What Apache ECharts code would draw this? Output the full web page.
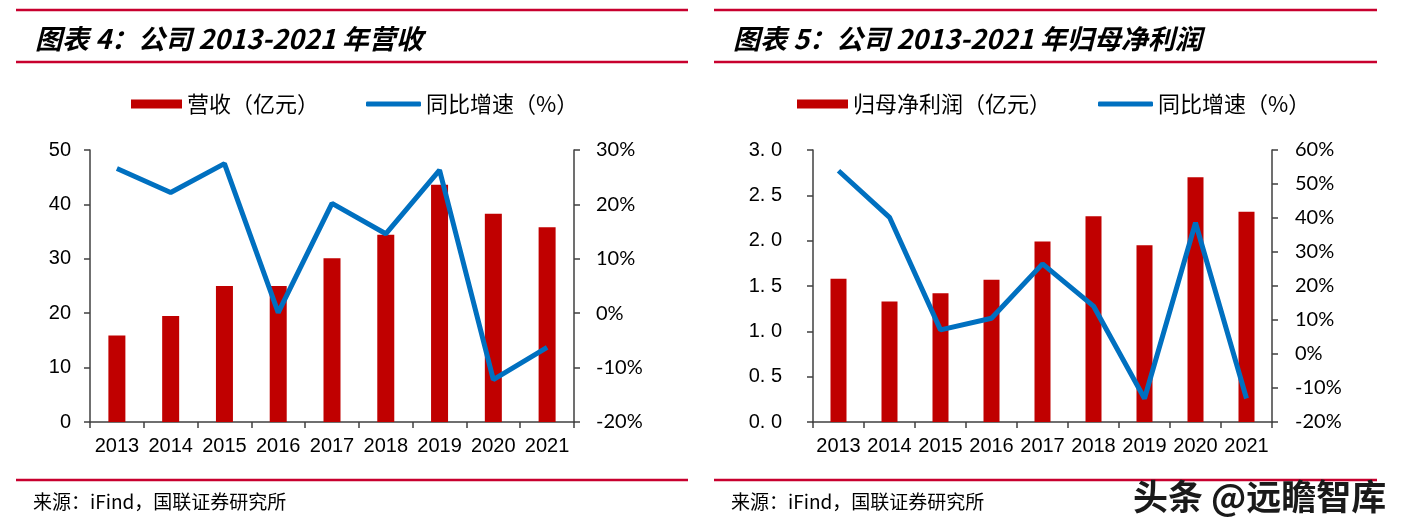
<!DOCTYPE html>
<html>
<head>
<meta charset="utf-8">
<script src="https://cdn.jsdelivr.net/npm/echarts@6/dist/echarts.min.js"></script>
<style>
html,body{margin:0;padding:0;background:#fff;}
#c{width:1409px;height:529px;}
</style>
</head>
<body>
<div id="c"></div>
<script>
// ---- data ----
const years = ['2013','2014','2015','2016','2017','2018','2019','2020','2021'];
const revenue = [15.9, 19.5, 25.0, 25.0, 30.1, 34.4, 43.6, 38.3, 35.8];
const revenueGrowth = [26.6, 22.2, 27.5, 0.1, 20.2, 14.6, 26.3, -12.2, -6.3];
const netProfit = [1.58, 1.33, 1.42, 1.57, 1.99, 2.27, 1.95, 2.70, 2.32];
const netProfitGrowth = [53.9, 40.2, 7.1, 10.5, 26.5, 14.1, -13.1, 38.6, -13.1];

const titleLeft = '图表 4：公司 2013-2021 年营收';
const titleRight = '图表 5：公司 2013-2021 年归母净利润';
const nameRevenue = '营收（亿元）';
const nameProfit = '归母净利润（亿元）';
const nameGrowth = '同比增速（%）';
const sourceText = '来源：iFind，国联证券研究所';
const watermark = '头条 @远瞻智库';

// ---- styles ----
const RED = '#C00000';
const BLUE = '#0070C0';
const RULE = '#C8002E';
const AXIS = '#404040';
const CJK = 'Noto Sans CJK SC';
const NUM = 'Liberation Sans';
const PCT = 'Lato';

const chart = echarts.init(document.getElementById('c'));

function xAxis(gi) {
  return {
    type: 'category', gridIndex: gi, data: years, boundaryGap: true,
    axisLine: {lineStyle: {color: AXIS, width: 1.5}},
    axisTick: {show: true, length: 6, alignWithLabel: false, lineStyle: {color: AXIS, width: 1.5}},
    axisLabel: {interval: 0, margin: 14, color: '#000', fontFamily: NUM, fontSize: 20}
  };
}
function yAxis(gi, pos, min, max, interval, fmt, margin, font) {
  return {
    type: 'value', gridIndex: gi, position: pos, min: min, max: max, interval: interval,
    splitLine: {show: false},
    axisLine: {show: true, lineStyle: {color: AXIS, width: 1.5}},
    axisTick: {show: true, length: 6, lineStyle: {color: AXIS, width: 1.5}},
    axisLabel: {formatter: fmt, margin: margin, color: '#000', fontFamily: font, fontSize: 20}
  };
}

function hline(x1, x2, y) {
  return {type: 'line', shape: {x1: x1, y1: y, x2: x2, y2: y}, style: {stroke: RULE, lineWidth: 2.5}, silent: true};
}
function txt(x, y, s, size, extra) {
  return {type: 'text', x: x, y: y, silent: true,
    style: Object.assign({text: s, fill: '#000', fontSize: size, fontFamily: CJK, verticalAlign: 'middle'}, extra || {})};
}

const legendText = {fontFamily: CJK, fontSize: 22, color: '#000'};

chart.setOption({
  animation: false,
  grid: [
    {left: 90, top: 150, width: 484, height: 272},
    {left: 813, top: 150, width: 459, height: 272}
  ],
  xAxis: [xAxis(0), xAxis(1)],
  yAxis: [
    yAxis(0, 'left', 0, 50, 10, v => String(v), 19, NUM),
    yAxis(0, 'right', -20, 30, 10, v => v + '%', 22, PCT),
    yAxis(1, 'left', 0, 3, 0.5, v => v.toFixed(1).replace('.', '. '), 31, NUM),
    yAxis(1, 'right', -20, 60, 10, v => v + '%', 23, PCT)
  ],
  legend: [
    {left: 126, top: 88, itemWidth: 51, itemHeight: 9, itemGap: 0, icon: 'rect', data: [nameRevenue], textStyle: legendText},
    {left: 361, top: 88, itemWidth: 55, itemHeight: 5, itemGap: 0, icon: 'roundRect', data: [nameGrowth], textStyle: legendText},
    {left: 792, top: 88, itemWidth: 51, itemHeight: 9, itemGap: 0, icon: 'rect', data: [nameProfit], textStyle: legendText},
    {left: 1093, top: 88, itemWidth: 55, itemHeight: 5, itemGap: 0, icon: 'roundRect', data: [nameGrowth], textStyle: legendText}
  ],
  series: [
    {name: nameRevenue, type: 'bar', xAxisIndex: 0, yAxisIndex: 0, data: revenue, barWidth: 17, itemStyle: {color: RED}},
    {name: nameGrowth, type: 'line', xAxisIndex: 0, yAxisIndex: 1, data: revenueGrowth, showSymbol: false, symbol: 'none',
     lineStyle: {color: BLUE, width: 5}, itemStyle: {color: BLUE}},
    {name: nameProfit, type: 'bar', xAxisIndex: 1, yAxisIndex: 2, data: netProfit, barWidth: 16, itemStyle: {color: RED}},
    {name: nameGrowth, type: 'line', xAxisIndex: 1, yAxisIndex: 3, data: netProfitGrowth, showSymbol: false, symbol: 'none',
     lineStyle: {color: BLUE, width: 5}, itemStyle: {color: BLUE}}
  ],
  graphic: [
    hline(16, 688, 10), hline(16, 688, 62), hline(16, 688, 480),
    hline(714, 1377, 10), hline(714, 1377, 62), hline(714, 1377, 480),
    txt(35, 39, titleLeft, 27, {fontStyle: 'italic', fontWeight: 'bold'}),
    txt(733, 39, titleRight, 27, {fontStyle: 'italic', fontWeight: 'bold'}),
    txt(33, 502, sourceText, 19),
    txt(731, 502, sourceText, 19),
    txt(1133, 497, watermark, 35, {fill: '#1a1a1a', fontWeight: 'bold', textShadowColor: '#ffffff', textShadowOffsetX: 2, textShadowOffsetY: 2, textShadowBlur: 0})
  ]
});
</script>
</body>
</html>
